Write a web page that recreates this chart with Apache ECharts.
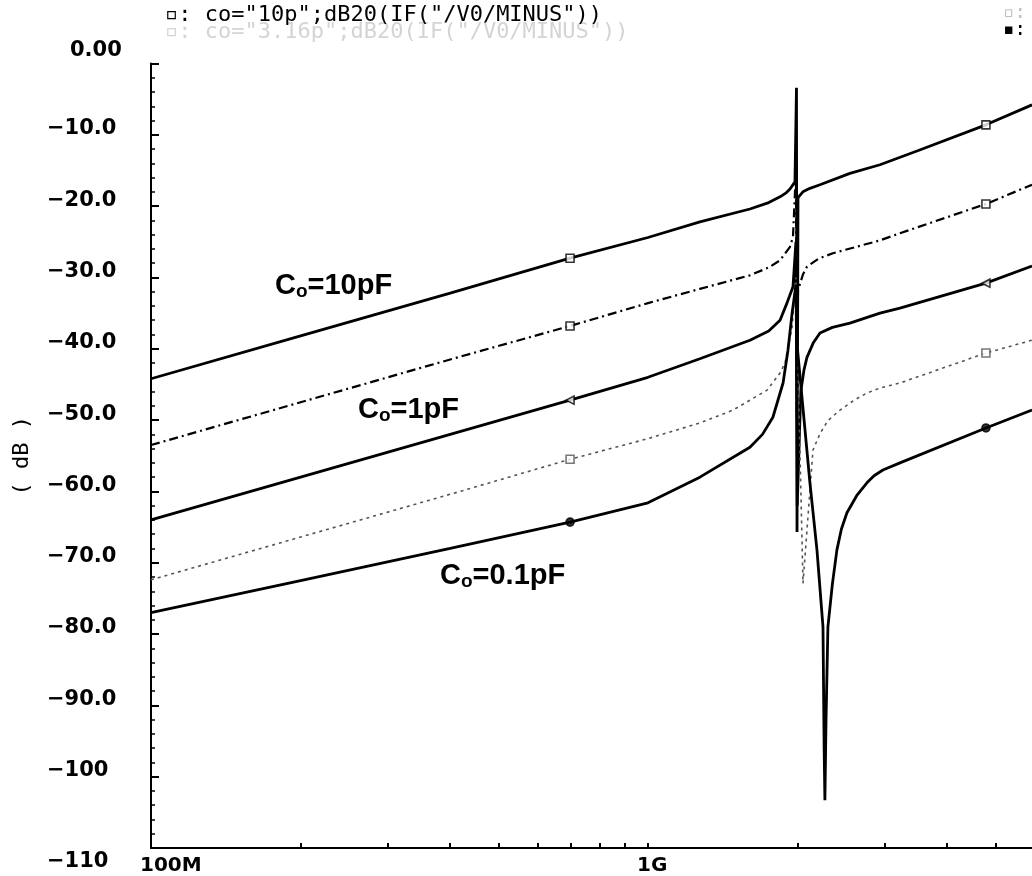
<!DOCTYPE html>
<html><head><meta charset="utf-8">
<script src="https://cdn.jsdelivr.net/npm/echarts@6/dist/echarts.min.js"></script>
<style>html,body{margin:0;padding:0;background:#fff}#c{width:1032px;height:876px}</style>
</head><body><div id="c"></div>
<script>
// ---- data (frequency in Hz, magnitude in dB) ----
const xLabelValues = [1e8, 1e9];
const xLabelNames = ['100M', '1G'];
const xMinorTicks = [2e8,3e8,4e8,5e8,6e8,7e8,8e8,9e8,1e9,2e9,3e9,4e9,5e9];
const markerFreqs = [6.97e8, 4.787e9];

const co10 = [[1e8,-44.2],[2e8,-38.2],[4e8,-32.2],[6.97e8,-27.3],[1e9,-24.4],[1.272e9,-22.2],[1.604e9,-20.4],[1.75e9,-19.5],[1.844e9,-18.7],[1.9e9,-18.1],[1.931e9,-17.6],[1.976e9,-16.6],[1.99e9,-3.4],[1.995e9,-65.7],[2.004e9,-18.8],[2.05e9,-18.0],[2.118e9,-17.5],[2.219e9,-17.0],[2.549e9,-15.4],[2.93e9,-14.2],[3.5e9,-12.2],[4.787e9,-8.6],[5.926e9,-5.8]];
const co316 = [[1e8,-53.5],[2e8,-47.5],[4e8,-41.5],[6.97e8,-36.8],[1e9,-33.6],[1.272e9,-31.6],[1.604e9,-29.7],[1.75e9,-28.6],[1.844e9,-27.6],[1.931e9,-25.7],[1.958e9,-24.3],[1.985e9,-15],[1.993e9,-50],[2.004e9,-31.8],[2.05e9,-29.6],[2.089e9,-28.5],[2.2e9,-27.4],[2.356e9,-26.6],[2.93e9,-24.8],[3.214e9,-23.8],[4.787e9,-19.7],[5.926e9,-17.0]];
const co1 = [[1e8,-64.0],[2e8,-58.0],[4e8,-52.0],[6.97e8,-47.2],[1e9,-44.0],[1.272e9,-41.4],[1.604e9,-38.8],[1.75e9,-37.5],[1.844e9,-36.0],[1.904e9,-33.6],[1.958e9,-31.3],[1.985e9,-25],[1.997e9,-62],[2.03e9,-46],[2.06e9,-43],[2.089e9,-41.2],[2.15e9,-39.2],[2.219e9,-37.8],[2.35e9,-37.0],[2.549e9,-36.4],[2.93e9,-35.0],[3.214e9,-34.3],[4.787e9,-30.8],[5.926e9,-28.4]];
const co0316 = [[1e8,-72.4],[2e8,-66.4],[4e8,-60.4],[6.97e8,-55.5],[1e9,-52.6],[1.272e9,-50.4],[1.483e9,-48.6],[1.736e9,-45.8],[1.844e9,-43.4],[1.887e9,-42.0],[1.95e9,-37],[1.985e9,-30],[2.051e9,-72.9],[2.148e9,-54.2],[2.219e9,-51.9],[2.3e9,-50.1],[2.434e9,-48.6],[2.6e9,-47.2],[2.758e9,-46.2],[2.93e9,-45.5],[3.214e9,-44.8],[4.787e9,-40.6],[5.926e9,-38.8]];
const co01 = [[1e8,-77.0],[2e8,-72.5],[4e8,-68.0],[6.97e8,-64.3],[1e9,-61.6],[1.272e9,-58.0],[1.604e9,-53.8],[1.7e9,-52.0],[1.784e9,-49.6],[1.87e9,-44.8],[1.913e9,-40.2],[1.95e9,-35],[1.985e9,-31],[2.0e9,-40.2],[2.118e9,-58.8],[2.188e9,-68.2],[2.25e9,-79.0],[2.262e9,-96.0],[2.27e9,-103.3],[2.282e9,-92],[2.302e9,-79.0],[2.35e9,-73.0],[2.4e9,-68.2],[2.45e9,-65.3],[2.514e9,-63.0],[2.63e9,-60.6],[2.758e9,-58.8],[2.85e9,-57.8],[2.97e9,-57.0],[3.214e9,-56.0],[4.787e9,-51.1],[5.926e9,-48.6]];

const titleLine1 = '\u25AB: co="10p";dB20(IF("/V0/MINUS"))';
const titleLine2 = '\u25AB: co="3.16p";dB20(IF("/V0/MINUS"))';

const chart = echarts.init(document.getElementById('c'), null, {renderer: 'canvas'});

const labelFont = 'DejaVu Sans';
function yFmt(v) {
  if (v === 0) return '{z|0.00}';
  if (v === -110) return '{b|\u2212110}';
  const s = v <= -100 ? String(-v) : (-v).toFixed(1);
  return '{n|\u2212' + s + '}';
}

const curves = [
  {name: 'Co=10pF', data: co10, line: {color: '#000', width: 2.8, type: 'solid'}, sym: 'rect', fill: '#fff'},
  {name: 'Co=3.16pF', data: co316, line: {color: '#000', width: 2.2, type: [9, 4, 2, 4]}, sym: 'rect', fill: '#fff'},
  {name: 'Co=1pF', data: co1, line: {color: '#000', width: 2.8, type: 'solid'}, sym: 'triangle', fill: '#fff'},
  {name: 'Co=0.316pF', data: co0316, line: {color: '#555', width: 1.6, type: [3, 4]}, sym: 'rect', fill: '#fff'},
  {name: 'Co=0.1pF', data: co01, line: {color: '#000', width: 2.8, type: 'solid'}, sym: 'circle', fill: '#000'}
];

const series = [];
curves.forEach(c => {
  series.push({
    type: 'line', name: c.name, data: c.data, symbol: 'none', smooth: false,
    lineStyle: c.line, animation: false, z: 3
  });
  series.push({
    type: 'scatter', name: c.name + ' marker',
    data: c.data.filter(p => markerFreqs.indexOf(p[0]) >= 0),
    symbol: c.sym, symbolSize: 8, symbolRotate: c.sym === 'triangle' ? 90 : 0,
    itemStyle: {color: c.fill, borderColor: c.line.color, borderWidth: 1.6},
    animation: false, z: 4
  });
});

function coText(rest) {
  return '{a|C}{s|o}{a|' + rest + '}';
}
const coRich = {
  a: {fontFamily: 'Liberation Sans', fontWeight: 'bold', fontSize: 29, fill: '#000'},
  s: {fontFamily: 'Liberation Sans', fontWeight: 'bold', fontSize: 19, fill: '#000', padding: [13, 0, 0, 0]}
};

chart.setOption({
  backgroundColor: '#fff',
  animation: false,
  grid: {left: 151, right: 0, top: 63.5, bottom: 28, containLabel: false, outerBoundsMode: 'none'},
  xAxis: {
    type: 'log', logBase: 10, min: 1e8, max: 5.926e9,
    axisLine: {show: true, onZero: false, lineStyle: {color: '#000', width: 2}},
    axisTick: {show: true, inside: true, length: 5, customValues: xMinorTicks, lineStyle: {color: '#000', width: 2}},
    axisLabel: {
      customValues: xLabelValues, align: 'left', padding: [0, 0, 0, -11], margin: 8,
      fontFamily: labelFont, fontWeight: 'bold', fontSize: 20, color: '#000',
      formatter: v => { const i = xLabelValues.findIndex(x => Math.abs(x - v) / x < 1e-6); return i >= 0 ? xLabelNames[i] : ''; }
    },
    splitLine: {show: false}, minorTick: {show: false}
  },
  yAxis: {
    type: 'value', min: -110, max: 0, interval: 10,
    name: '( dB )', nameLocation: 'middle', nameGap: 118, nameRotate: 90,
    nameTextStyle: {fontFamily: 'DejaVu Sans Mono', fontSize: 22, color: '#000'},
    axisLine: {show: true, onZero: false, lineStyle: {color: '#000', width: 2}},
    axisTick: {show: true, inside: true, length: 8, lineStyle: {color: '#000', width: 2}},
    minorTick: {show: true, splitNumber: 5, length: 4, lineStyle: {color: '#000', width: 1.5}},
    axisLabel: {
      align: 'left', margin: 104, color: '#000', formatter: yFmt,
      rich: {
        z: {fontFamily: labelFont, fontWeight: 'bold', fontSize: 21, padding: [0, 0, 26, 23]},
        n: {fontFamily: labelFont, fontWeight: 'bold', fontSize: 21, padding: [0, 0, 12, 0]},
        b: {fontFamily: labelFont, fontWeight: 'bold', fontSize: 21, padding: [28, 0, 0, 0]}
      }
    },
    splitLine: {show: false}, minorSplitLine: {show: false}
  },
  graphic: [
    {type: 'text', left: 165, top: 4, z: 5, style: {text: titleLine1, fontFamily: 'DejaVu Sans Mono', fontSize: 22, fill: '#000'}},
    {type: 'text', left: 165, top: 21, z: 4, style: {text: titleLine2, fontFamily: 'DejaVu Sans Mono', fontSize: 22, fill: '#d4d4d4'}},
    {type: 'text', left: 1003, top: 4, style: {text: '\u25AB:', fontFamily: 'DejaVu Sans Mono', fontSize: 19, fill: '#c0c0c0'}},
    {type: 'text', left: 1003, top: 21, style: {text: '\u25AA:', fontFamily: 'DejaVu Sans Mono', fontSize: 19, fill: '#000'}},
    {type: 'text', left: 275, top: 271, z: 10, style: {text: coText('=10pF'), rich: coRich}},
    {type: 'text', left: 358, top: 395, z: 10, style: {text: coText('=1pF'), rich: coRich}},
    {type: 'text', left: 440, top: 561, z: 10, style: {text: coText('=0.1pF'), rich: coRich}}
  ],
  series: series
});
</script></body></html>
